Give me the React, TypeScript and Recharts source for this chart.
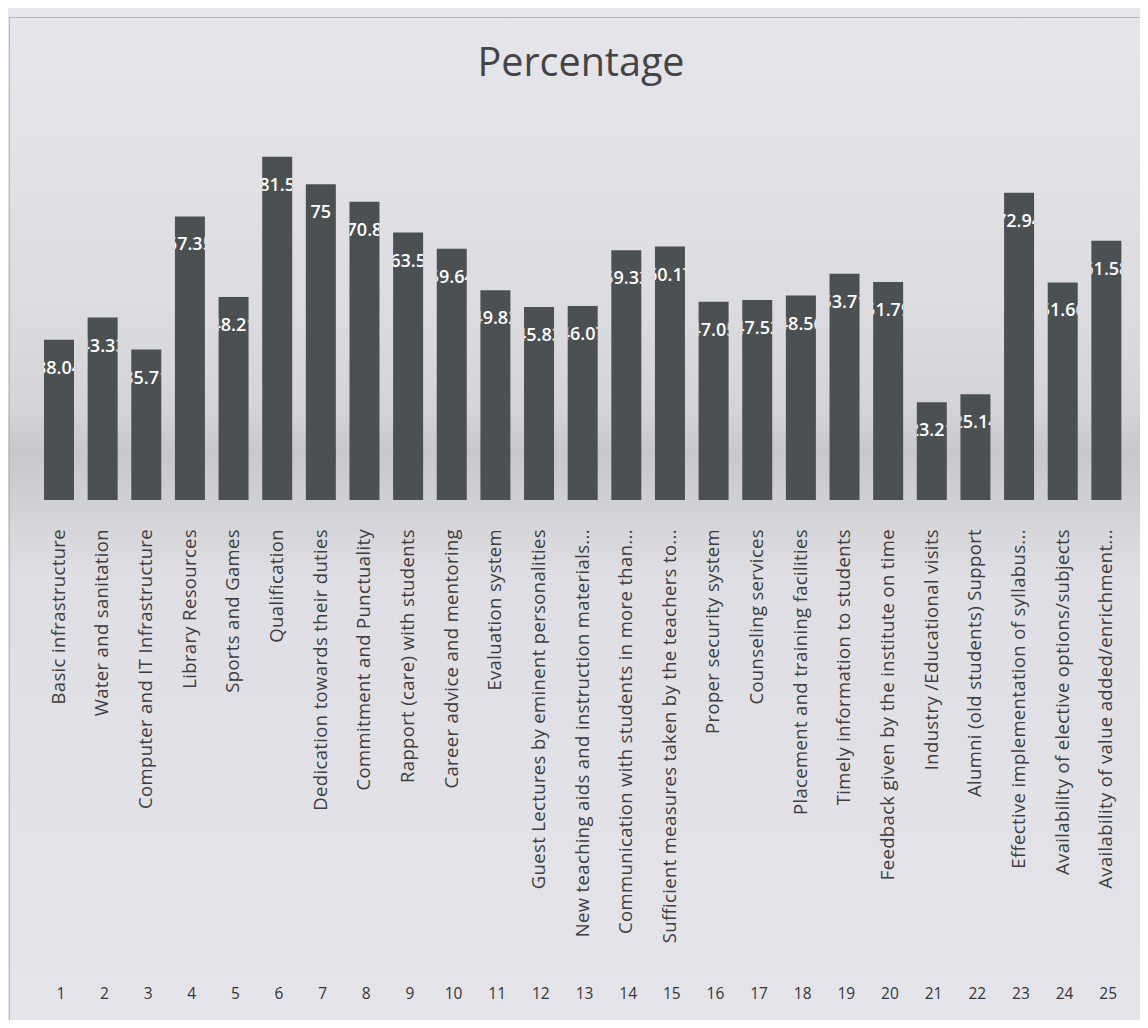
import React from 'react';
import { BarChart, Bar, XAxis, YAxis, LabelList } from 'recharts';

const categories = [
  'Basic infrastructure',
  'Water and sanitation',
  'Computer and IT Infrastructure',
  'Library Resources',
  'Sports and Games',
  'Qualification',
  'Dedication towards their duties',
  'Commitment and Punctuality',
  'Rapport (care) with students',
  'Career advice and mentoring',
  'Evaluation system',
  'Guest Lectures by eminent personalities',
  'New teaching aids and instruction materials...',
  'Communication with students in more than...',
  'Sufficient measures taken by the teachers to...',
  'Proper security system',
  'Counseling services',
  'Placement and training facilities',
  'Timely information to students',
  'Feedback given by the institute on time',
  'Industry /Educational visits',
  'Alumni (old students) Support',
  'Effective implementation of syllabus...',
  'Availability of elective options/subjects',
  'Availability of value added/enrichment...',
];

const percentages = [
  38.04, 43.33, 35.71, 67.35, 48.21, 81.5, 75, 70.8, 63.5, 59.64, 49.82, 45.83, 46.07,
  59.33, 60.17, 47.05, 47.52, 48.56, 53.71, 51.79, 23.21, 25.14, 72.94, 51.66, 61.58,
];

const itemNumbers = [
  '1', '2', '3', '4', '5', '6', '7', '8', '9', '10', '11', '12', '13',
  '14', '15', '16', '17', '18', '19', '20', '21', '22', '23', '24', '25',
];

const data = categories.map((name, i) => ({
  name,
  no: itemNumbers[i],
  value: percentages[i],
}));

const FONT = '"Open Sans", Lato, sans-serif';

function CategoryTick(props: any) {
  const { x, y, payload, index } = props;
  return (
    <g>
      <text
        transform={`translate(${x + 6},${y + 29}) rotate(-90)`}
        textAnchor="end"
        fontSize={18.5}
        letterSpacing={0.35}
        fontFamily={FONT}
        fill="#3d3d40"
      >
        {payload.value}
      </text>
      <text
        x={x + 2}
        y={y + 499}
        textAnchor="middle"
        fontSize={15.5}
        fontFamily={FONT}
        fill="#353538"
      >
        {itemNumbers[index]}
      </text>
    </g>
  );
}

// white value label, only visible where it sits on the bar (as in the scan)
function ValueLabel(props: any) {
  const { x, y, width, height, value, index } = props;
  const id = `clip-label-${index}`;
  return (
    <g>
      <defs>
        <clipPath id={id}>
          <rect x={x} y={y} width={width} height={height} />
        </clipPath>
      </defs>
      <text
        x={x + width / 2}
        y={y + 34}
        textAnchor="middle"
        fontSize={18}
        fontWeight={600}
        fontFamily={FONT}
        fill="#ffffff"
        clipPath={`url(#${id})`}
      >
        {value}
      </text>
    </g>
  );
}

export default function App() {
  return (
    <div
      style={{
        position: 'relative',
        margin: -8,
        width: 1148,
        height: 1028,
        background:
          'linear-gradient(to bottom, #e6e6ec 0%, #dcdce0 30%, #d4d4d8 40%, #c8c8cc 44%, #cfcfd3 48%, #dedee4 56%, #e4e4ea 100%)',
        overflow: 'hidden',
      }}
    >
      <div
        style={{
          position: 'absolute',
          left: 9,
          top: 17,
          width: 1130,
          height: 1003,
          border: '1px solid #b8b8bc',
        }}
      />
      <div
        style={{
          position: 'absolute',
          left: 0,
          width: 1162,
          top: 34,
          textAlign: 'center',
          fontFamily: FONT,
          fontSize: 39.5,
          color: '#444447',
        }}
      >
        Percentage
      </div>
      <div style={{ position: 'absolute', left: 0, top: 0 }}>
        <BarChart
          width={1148}
          height={1028}
          data={data}
          margin={{ top: 121, right: 20, left: 37, bottom: 0 }}
          barSize={30}
        >
          <XAxis
            dataKey="name"
            interval={0}
            height={528}
            tickSize={0}
            tickMargin={0}
            axisLine={false}
            tickLine={false}
            tick={<CategoryTick />}
          />
          <YAxis hide domain={[0, 90]} />
          <Bar dataKey="value" fill="#4b5053" isAnimationActive={false}>
            <LabelList dataKey="value" content={<ValueLabel />} />
          </Bar>
        </BarChart>
      </div>
    </div>
  );
}
